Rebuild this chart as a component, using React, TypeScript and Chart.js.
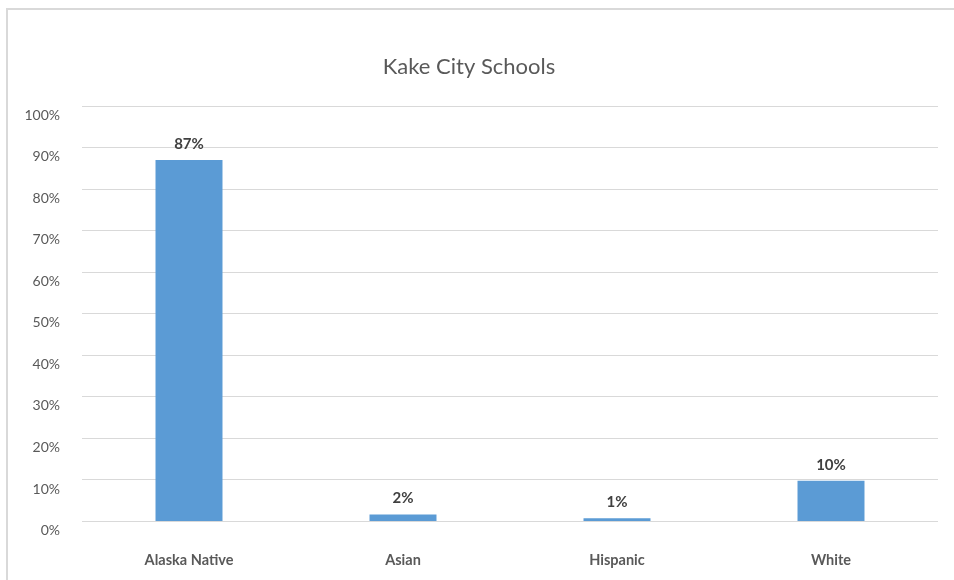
import React, { useEffect, useRef } from "react";
import { Chart, registerables } from "chart.js";

Chart.register(...registerables);

const categories = ["Alaska Native", "Asian", "Hispanic", "White"];
const percentValues = [87.1, 1.7, 0.8, 9.8];
const yTicks = [0, 10, 20, 30, 40, 50, 60, 70, 80, 90, 100];
const chartTitle = "Kake City Schools";

const FONT = "Lato, 'Open Sans', sans-serif";

const dataLabelPlugin = {
  id: "dataLabels",
  afterDatasetsDraw(chart: any) {
    const ctx = chart.ctx;
    const meta = chart.getDatasetMeta(0);
    ctx.save();
    ctx.font = `bold 15px ${FONT}`;
    ctx.fillStyle = "#404040";
    ctx.textAlign = "center";
    ctx.textBaseline = "middle";
    meta.data.forEach((bar: any, i: number) => {
      const v = chart.data.datasets[0].data[i];
      ctx.fillText(`${Math.round(v)}%`, bar.x, bar.y - 16);
    });
    ctx.restore();
  },
};

export default function App() {
  const ref = useRef<HTMLCanvasElement | null>(null);
  useEffect(() => {
    if (!ref.current) return;
    const chart = new Chart(ref.current, {
      type: "bar",
      data: {
        labels: categories,
        datasets: [
          {
            data: percentValues,
            backgroundColor: "#5b9bd5",
            borderWidth: 0,
            barPercentage: 0.313,
            categoryPercentage: 1,
          },
        ],
      },
      options: {
        animation: false,
        responsive: false,
        maintainAspectRatio: false,
        layout: { padding: { left: 0, right: 16, top: 0, bottom: 0 } },
        plugins: {
          legend: { display: false },
          tooltip: { enabled: false },
          title: {
            display: true,
            text: chartTitle,
            color: "#595959",
            font: { family: FONT, size: 22, weight: "normal" },
            padding: { top: 54, bottom: 26 },
          },
        },
        scales: {
          x: {
            grid: { display: false, drawTicks: false },
            border: { display: false },
            ticks: {
              color: "#595959",
              font: { family: FONT, size: 14.5, weight: "bold" },
              padding: 30,
            },
            afterFit(scale: any) {
              scale.height = 58.5;
            },
          },
          y: {
            min: 0,
            max: 100,
            afterBuildTicks(scale: any) {
              scale.ticks = yTicks.map((v) => ({ value: v }));
            },
            grid: { color: "#d9d9d9", lineWidth: 1, drawTicks: false },
            border: { display: false },
            ticks: {
              color: "#595959",
              font: { family: FONT, size: 14 },
              padding: 22,
              labelOffset: 9,
              callback: (v: any) => `${v}%`,
            },
            afterFit(scale: any) {
              scale.width = 82;
            },
          },
        },
      },
      plugins: [dataLabelPlugin],
    });
    return () => chart.destroy();
  }, []);

  return (
    <div style={{ position: "fixed", left: 0, top: 0, width: 954, height: 580, overflow: "hidden", background: "#fff" }}>
      <div
        style={{
          position: "absolute",
          left: 128,
          top: -23,
          fontFamily: FONT,
          fontSize: 20,
          color: "#000",
          whiteSpace: "nowrap",
        }}
      >
        Demographics
      </div>
      <div
        style={{
          position: "absolute",
          left: 6,
          top: 8,
          width: 1000,
          height: 700,
          border: "2px solid #d9d9d9",
          boxSizing: "border-box",
        }}
      />
      <canvas ref={ref} width={954} height={580} style={{ position: "absolute", left: 0, top: 0 }} />
    </div>
  );
}
